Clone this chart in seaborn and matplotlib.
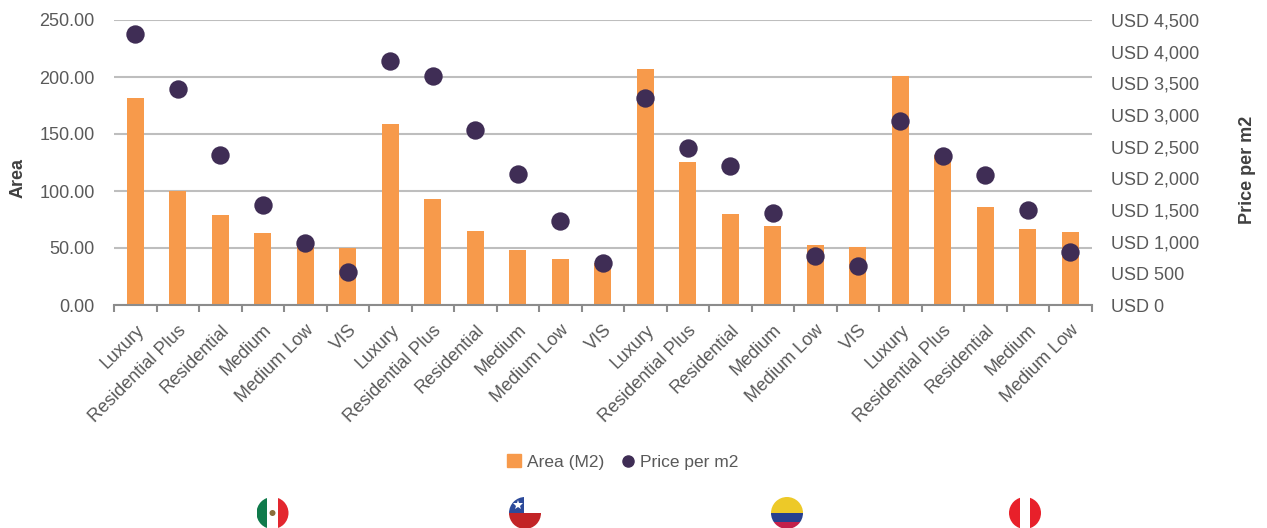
import matplotlib
matplotlib.use("Agg")
import matplotlib.pyplot as plt
from matplotlib.lines import Line2D
from matplotlib.patches import Circle, Patch, Rectangle
from matplotlib.ticker import FuncFormatter
import numpy as np
import pandas as pd
import seaborn as sns

segments = ["Luxury", "Residential Plus", "Residential", "Medium", "Medium Low", "VIS",
            "Luxury", "Residential Plus", "Residential", "Medium", "Medium Low", "VIS",
            "Luxury", "Residential Plus", "Residential", "Medium", "Medium Low", "VIS",
            "Luxury", "Residential Plus", "Residential", "Medium", "Medium Low"]
area_m2 = [182, 100, 79, 63, 55, 50,
           159, 93, 65, 48, 40, 37,
           207, 125, 80, 69, 53, 51,
           201, 132, 86, 67, 64]
price_per_m2 = [4279, 3410, 2368, 1579, 979, 521,
                3853, 3616, 2763, 2068, 1326, 663,
                3268, 2479, 2195, 1453, 774, 616,
                2905, 2353, 2053, 1500, 837]

ORANGE = "#F79A4B"
PURPLE = "#3F2D55"
TEXT = "#595959"
LABEL = "#404040"
GRID = "#BEBEBE"
SPINE = "#8C8C8C"

sns.set_theme(style="white")
plt.rcParams["font.family"] = ["Liberation Sans", "DejaVu Sans"]
FS = 13

W, H = 1267, 528
fig = plt.figure(figsize=(W / 100, H / 100), dpi=100, facecolor="white")
ax = fig.add_axes([114 / W, 1 - 305 / H, 977.5 / W, 285 / H])

df = pd.DataFrame({"slot": range(len(segments)), "segment": segments,
                   "area": area_m2, "price": price_per_m2})

sns.barplot(data=df, x="slot", y="area", color=ORANGE, saturation=1, width=0.4,
            linewidth=0, ax=ax, zorder=2)
ax.set_xlim(-0.5, len(segments) - 0.5)
ax.set_ylim(0, 250)
ax.set_yticks(np.arange(0, 251, 50))
ax.yaxis.set_major_formatter(FuncFormatter(lambda v, _: f"{v:.2f}"))
ax.yaxis.grid(True, color=GRID, lw=1.5, zorder=1)
ax.set_axisbelow(True)

ax.set_xticks(df["slot"], segments, rotation=45, ha="right", rotation_mode="anchor")
ax.set_xticks(np.arange(-0.5, len(segments)), minor=True)
ax.tick_params(axis="x", which="major", length=0, pad=12, labelsize=FS, labelcolor=TEXT)
ax.tick_params(axis="x", which="minor", length=5, width=1.5, color=SPINE, bottom=True)
ax.tick_params(axis="y", length=0, pad=14, labelsize=FS, labelcolor=TEXT)
for name, spine in ax.spines.items():
    spine.set_visible(name == "bottom")
ax.spines["bottom"].set_color(SPINE)
ax.spines["bottom"].set_linewidth(1.5)
ax.set_xlabel("")
ax.set_ylabel("")

ax2 = ax.twinx()
sns.scatterplot(data=df, x="slot", y="price", color=PURPLE, s=175, linewidth=0, ax=ax2, zorder=3, legend=False)
ax2.set_ylim(0, 4500)
ax2.set_yticks(np.arange(0, 4501, 500))
ax2.yaxis.set_major_formatter(FuncFormatter(lambda v, _: f"USD {v:,.0f}"))
ax2.tick_params(axis="y", length=0, pad=14, labelsize=FS, labelcolor=TEXT)
ax2.set_xlabel("")
ax2.set_ylabel("")
for spine in ax2.spines.values():
    spine.set_visible(False)

fig.text(18 / W, 1 - 178 / H, "Area", rotation=90, ha="center", va="center",
         fontsize=FS, fontweight="bold", color=LABEL)
fig.text(1248 / W, 1 - 170 / H, "Price per m2", rotation=90, ha="center", va="center",
         fontsize=FS, fontweight="bold", color=LABEL)

handles = [Patch(color=ORANGE, label="Area (M2)"),
           Line2D([], [], marker="o", ls="", color=PURPLE, markersize=8, label="Price per m2")]
fig.legend(handles=handles, loc="center", bbox_to_anchor=(623 / W, 1 - 462 / H), ncol=2,
           frameon=False, fontsize=12.5, labelcolor=TEXT, handlelength=0.8, handleheight=0.8,
           handletextpad=0.3, columnspacing=1.0)

# Country badges under each group of bars, in a pixel-based overlay
overlay = fig.add_axes([0, 0, 1, 1], facecolor="none")
overlay.set_xlim(0, W)
overlay.set_ylim(H, 0)
overlay.axis("off")


def badge(cx, cy, r, stripes):
    clip = Circle((cx, cy), r, transform=overlay.transData)
    drawn = []
    for x0, y0, w, h, colour in stripes:
        drawn.append(overlay.add_patch(Rectangle((cx + x0 * r, cy + y0 * r), w * r, h * r,
                                                 color=colour, lw=0)))
    for patch in drawn:
        patch.set_clip_path(clip)
    return clip


cy, r = 513, 16
badge(272.5, cy, r, [(-1, -1, 0.68, 2, "#0F7A4B"), (-0.34, -1, 0.68, 2, "#FFFFFF"),
                     (0.34, -1, 0.66, 2, "#E3262E")])
overlay.add_patch(Circle((272.5, cy), 3, color="#8A6D3B", lw=0))

badge(525, cy, r, [(-1, -1, 2, 1, "#FFFFFF"), (-1, 0, 2, 1, "#C22426"),
                   (-1, -1, 0.95, 1, "#2C4A9A")])
overlay.plot([517.5], [cy - 8], marker="*", color="white", ms=7, mew=0)

badge(787, cy, r, [(-1, -1, 2, 1, "#EDC928"), (-1, 0, 2, 0.55, "#27408F"),
                   (-1, 0.55, 2, 0.45, "#C4204A")])

badge(1025, cy, r, [(-1, -1, 0.68, 2, "#E8202A"), (-0.34, -1, 0.68, 2, "#FFFFFF"),
                    (0.34, -1, 0.66, 2, "#E8202A")])

fig.savefig("out.png", dpi=100)
